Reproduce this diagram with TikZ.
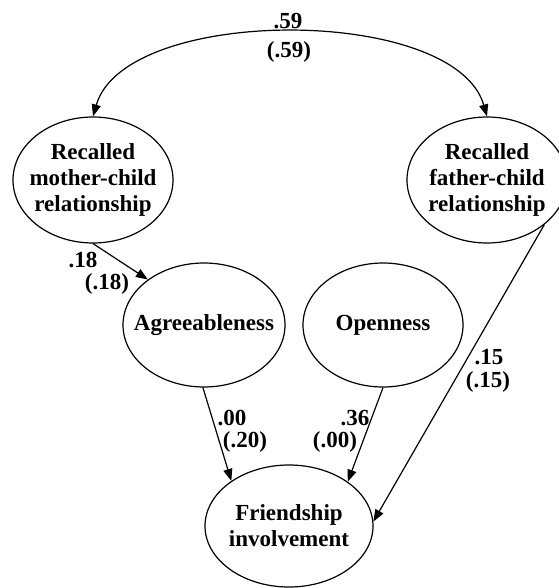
\documentclass[tikz,border=0pt]{standalone}
\usepackage{fontspec}
\setmainfont{Liberation Serif}
\usetikzlibrary{shapes.geometric,arrows.meta}
\begin{document}
\begin{tikzpicture}[x=1pt,y=-1pt,
  lat/.style={ellipse,draw,line width=1.2pt,inner sep=0pt},
  lbl/.style={inner sep=0pt,align=center,font=\fontsize{23}{26}\selectfont\bfseries},
  path/.style={line width=1.2pt,-{Triangle[length=12pt,width=9pt]}}]
\useasboundingbox (0,0) rectangle (558,588);
\node[lat,minimum width=160pt,minimum height=126pt,label={[lbl]center:Recalled\\mother-child\\relationship}] (mother) at (93,180) {};
\node[lat,minimum width=160pt,minimum height=126pt,label={[lbl]center:Recalled\\father-child\\relationship}] (father) at (487,180) {};
\node[lat,minimum width=162pt,minimum height=124pt,label={[lbl]center:Agreeableness}] (agree) at (204,325) {};
\node[lat,minimum width=160pt,minimum height=124pt,label={[lbl]center:Openness}] (open) at (383,325) {};
\node[lat,minimum width=168pt,minimum height=122pt,label={[lbl]center:Friendship\\involvement}] (friend) at (289,526) {};
\draw[line width=1.2pt,{Triangle[length=12pt,width=9pt]}-{Triangle[length=12pt,width=9pt]}]
  (mother.north) .. controls (125,5) and (455,5) .. (father.north);
\node[lbl] (l59a) at (288,21) {.59};
\node[lbl] (l59b) at (289,52) {(.59)};
\draw[path] (mother.south) -- (agree.141);
\node[lbl] (l18a) at (83,260) {.18};
\node[lbl] (l18b) at (107,284) {(.18)};
\draw[path] (father.-38) -- (friend.3);
\node[lbl] (l15a) at (489,357) {.15};
\node[lbl] (l15b) at (488,382) {(.15)};
\draw[path] (agree.-91) -- (friend.142);
\node[lbl] (l00a) at (232,418) {.00};
\node[lbl] (l00b) at (245,442) {(.20)};
\draw[path] (open.-90) -- (friend.37);
\node[lbl] (l36a) at (355,418) {.36};
\node[lbl] (l36b) at (335,442) {(.00)};
\end{tikzpicture}
\end{document}
